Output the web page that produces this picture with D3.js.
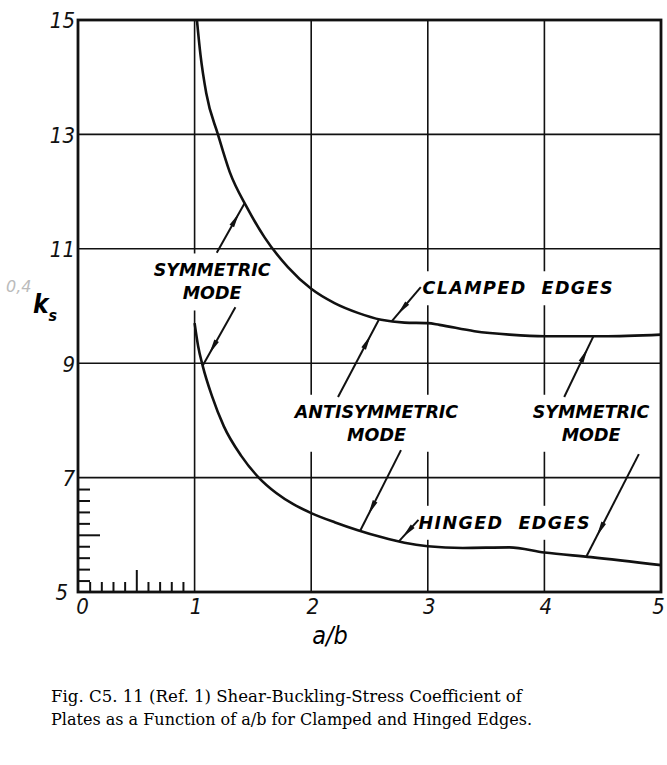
<!DOCTYPE html>
<html>
<head>
    <title>Shear-Buckling-Stress Coefficient</title>
    <script src="https://d3js.org/d3.v7.min.js"></script>
    <style>
        body { margin: 0; background: #fff; }
        .lbl { font-family: "DejaVu Sans", sans-serif; font-weight: bold; font-style: italic; font-size: 17.5px; white-space: pre; }
        .wide { letter-spacing: 1.4px; }
        .num { font-family: "DejaVu Sans Condensed", "DejaVu Sans", sans-serif; font-stretch: condensed; font-style: italic; font-size: 22px; }
        .cap { font-family: "DejaVu Serif", serif; font-size: 16px; }
    </style>
</head>
<body>
<script>
    // curves
    const clampedAB = [1.02, 1.05, 1.1, 1.2, 1.3, 1.45, 1.6, 1.8, 2.0, 2.2, 2.4, 2.6, 2.8, 3.0, 3.1, 3.4, 3.7, 4.0, 4.5, 5.0];
    const clampedK  = [15.0, 14.4, 13.72, 13.0, 12.35, 11.72, 11.2, 10.68, 10.3, 10.05, 9.88, 9.76, 9.71, 9.7, 9.67, 9.56, 9.5, 9.47, 9.47, 9.5];
    const hingedAB  = [1.0, 1.03, 1.07, 1.15, 1.25, 1.4, 1.55, 1.7, 1.85, 2.0, 2.2, 2.4, 2.6, 2.8, 3.0, 3.3, 3.7, 4.0, 4.4, 5.0];
    const hingedK   = [9.7, 9.3, 8.95, 8.42, 7.9, 7.38, 7.0, 6.73, 6.53, 6.38, 6.22, 6.08, 5.96, 5.86, 5.8, 5.77, 5.78, 5.69, 5.61, 5.47];

    const xTicks = [0, 1, 2, 3, 4, 5];
    const yTicks = [5, 7, 9, 11, 13, 15];
    const xGrid = [1, 2, 3, 4];
    const yGrid = [7, 9, 11, 13];
    const xMinor = [0.1, 0.2, 0.3, 0.4, 0.5, 0.6, 0.7, 0.8, 0.9];
    const yMinor = [5.2, 5.4, 5.6, 5.8, 6.0, 6.2, 6.4, 6.6, 6.8];

    // leader lines: from label (a/b, k) to curve (a/b, k)
    const leaders = [
        [1.19, 10.93, 1.43, 11.8],
        [1.35, 9.98, 1.07, 8.96],
        [2.94, 10.33, 2.69, 9.73],
        [2.23, 8.41, 2.58, 9.76],
        [2.77, 7.48, 2.42, 6.07],
        [2.92, 6.26, 2.75, 5.88],
        [4.17, 8.41, 4.42, 9.47],
        [4.81, 7.41, 4.36, 5.62]
    ];
    // label blocks: lines of text, centre (a/b, k), anchor
    const labels = [
        { lines: ["SYMMETRIC", "MODE"], ab: 1.15, k: 10.42, anchor: "middle" },
        { lines: ["ANTISYMMETRIC", "MODE"], ab: 2.56, k: 7.95, anchor: "middle" },
        { lines: ["SYMMETRIC", "MODE"], ab: 4.4, k: 7.95, anchor: "middle" },
        { lines: ["CLAMPED  EDGES"], ab: 2.955, k: 10.31, anchor: "start" },
        { lines: ["HINGED  EDGES"], ab: 2.92, k: 6.21, anchor: "start" }
    ];

    const width = 667, height = 765;
    const x = d3.scaleLinear().domain([0, 5]).range([78, 661]);
    const y = d3.scaleLinear().domain([5, 15]).range([592, 20]);

    const svg = d3.select("body").append("svg")
        .attr("width", width)
        .attr("height", height)
        .style("background", "#fff");

    // grid
    svg.selectAll(".gx").data(xGrid).join("line")
        .attr("x1", d => x(d)).attr("x2", d => x(d))
        .attr("y1", y(15)).attr("y2", y(5))
        .style("stroke", "#111").style("stroke-width", 1.6);
    svg.selectAll(".gy").data(yGrid).join("line")
        .attr("x1", x(0)).attr("x2", x(5))
        .attr("y1", d => y(d)).attr("y2", d => y(d))
        .style("stroke", "#111").style("stroke-width", 1.6);

    // label blocks with white backing (they break the grid)
    const lineH = 23;
    labels.forEach(l => {
        const g = svg.append("g");
        const bg = g.append("rect").style("fill", "#fff");
        const n = l.lines.length;
        l.lines.forEach((s, i) => {
            g.append("text")
                .attr("class", n === 1 ? "lbl wide" : "lbl")
                .attr("x", x(l.ab))
                .attr("y", y(l.k) + (i - (n - 1) / 2) * lineH + 6)
                .attr("text-anchor", l.anchor)
                .text(s);
        });
        const b = g.node().getBBox();
        bg.attr("x", b.x - 6).attr("y", b.y - 7)
            .attr("width", b.width + 12).attr("height", b.height + 14);
    });

    // leaders with arrowheads
    leaders.forEach(d => {
        const x1 = x(d[0]), y1 = y(d[1]), x2 = x(d[2]), y2 = y(d[3]);
        svg.append("line")
            .attr("x1", x1).attr("y1", y1).attr("x2", x2).attr("y2", y2)
            .style("stroke", "#111").style("stroke-width", 2);
        const len = Math.hypot(x2 - x1, y2 - y1);
        const ux = (x2 - x1) / len, uy = (y2 - y1) / len;
        const tx = x1 + ux * len * 0.8, ty = y1 + uy * len * 0.8;
        const bx = tx - ux * 15, by = ty - uy * 15;
        svg.append("path")
            .attr("d", `M${tx},${ty}L${bx - uy * 2.6},${by + ux * 2.6}L${bx + uy * 2.6},${by - ux * 2.6}Z`)
            .style("fill", "#111");
    });

    // curves
    const line = d3.line()
        .x(d => x(d[0]))
        .y(d => y(d[1]))
        .curve(d3.curveMonotoneX);
    [[clampedAB, clampedK], [hingedAB, hingedK]].forEach(s => {
        svg.append("path")
            .datum(s[0].map((v, i) => [v, s[1][i]]))
            .attr("d", line)
            .style("fill", "none")
            .style("stroke", "#111")
            .style("stroke-width", 2.6);
    });

    // frame
    svg.append("rect")
        .attr("x", x(0)).attr("y", y(15))
        .attr("width", x(5) - x(0)).attr("height", y(5) - y(15))
        .style("fill", "none").style("stroke", "#111").style("stroke-width", 2.8);

    // minor ticks inside the corner
    const ym = svg.append("g").attr("transform", `translate(${x(0)},0)`)
        .call(d3.axisRight(y).tickValues(yMinor).tickSize(12).tickFormat(""));
    ym.select(".domain").remove();
    ym.selectAll(".tick line").style("stroke", "#111").style("stroke-width", 2)
        .attr("x2", d => Math.abs(d - 6) < 1e-6 ? 22 : 12);
    const xm = svg.append("g").attr("transform", `translate(0,${y(5)})`)
        .call(d3.axisTop(x).tickValues(xMinor).tickSize(10).tickFormat(""));
    xm.select(".domain").remove();
    xm.selectAll(".tick line").style("stroke", "#111").style("stroke-width", 2)
        .attr("y2", d => Math.abs(d - 0.5) < 1e-6 ? -22 : -10);

    // tick labels
    const ya = svg.append("g").attr("transform", `translate(${x(0) - 3},0)`)
        .call(d3.axisLeft(y).tickValues(yTicks).tickSize(0).tickPadding(0).tickFormat(d3.format("d")));
    ya.select(".domain").remove();
    ya.selectAll("text").attr("class", "num").style("font-size", null).style("font-family", null)
        .attr("dy", "0.36em")
        .attr("x", d => d === 5 ? -7 : 0)
        .style("fill", "#111");
    const xa = svg.append("g").attr("transform", `translate(1,${y(5)})`)
        .call(d3.axisBottom(x).tickValues(xTicks).tickSize(0).tickPadding(5).tickFormat(d3.format("d")));
    xa.select(".domain").remove();
    xa.selectAll("text").attr("class", "num").style("font-size", null).style("font-family", null)
        .style("fill", "#111").attr("dy", "0.75em")
        .attr("x", d => d === 0 ? 3 : (d === 5 ? -4 : 0));

    // axis titles
    svg.append("text").attr("class", "num")
        .attr("x", 330).attr("y", 644).attr("text-anchor", "middle")
        .style("font-size", "25px").text("a/b");
    const ks = svg.append("text").attr("class", "num")
        .attr("x", 33).attr("y", 313).style("font-size", "26px").style("font-weight", "bold");
    ks.append("tspan").text("k");
    ks.append("tspan").attr("dy", 8).style("font-size", "16px").text("s");
    svg.append("text")
        .attr("x", 6).attr("y", 292)
        .style("font-family", "DejaVu Sans").style("font-style", "italic")
        .style("font-size", "16px").style("fill", "#bbb").text("0,4");

    // caption
    svg.append("text").attr("class", "cap")
        .attr("x", 51).attr("y", 702)
        .attr("textLength", 471).attr("lengthAdjust", "spacingAndGlyphs")
        .text("Fig. C5. 11 (Ref. 1)  Shear-Buckling-Stress Coefficient of");
    svg.append("text").attr("class", "cap")
        .attr("x", 51).attr("y", 725)
        .attr("textLength", 481).attr("lengthAdjust", "spacingAndGlyphs")
        .text("Plates as a Function of a/b for Clamped and Hinged Edges.");
</script>
</body>
</html>
